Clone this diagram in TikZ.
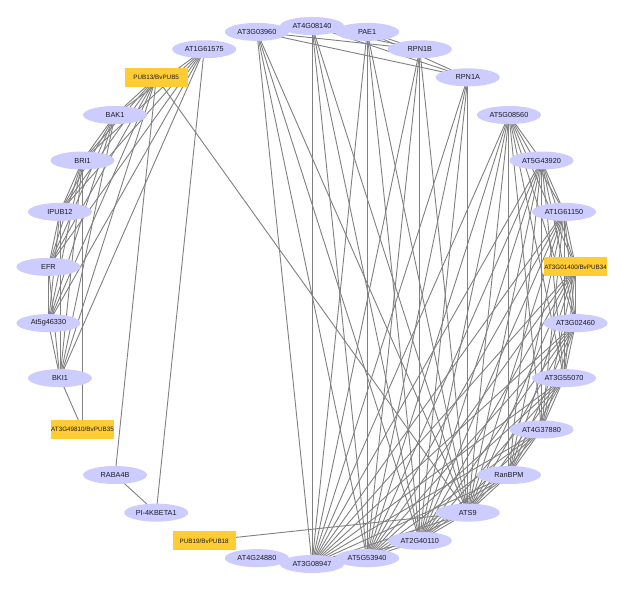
\documentclass[tikz,border=0pt]{standalone}
\usepackage{fontspec}
\setmainfont{Liberation Sans}
\usetikzlibrary{shapes.geometric,backgrounds}
\pgfdeclarelayer{bottom}
\pgfsetlayers{bottom,background,main}
\definecolor{nodefill}{RGB}{204,204,255}
\definecolor{pubfill}{RGB}{255,204,51}
\definecolor{edgecol}{RGB}{128,128,128}
\definecolor{txtcol}{RGB}{25,25,35}
\begin{document}
\begin{tikzpicture}[x=1pt,y=1pt,
  ell/.style={ellipse, fill=nodefill, minimum width=64pt, minimum height=18pt, inner sep=0pt,
    text=txtcol, font=\fontsize{7.3}{8}\selectfont},
  pub/.style={rectangle, fill=pubfill, minimum width=63pt, minimum height=19pt, inner sep=0pt,
    text=txtcol, font=\fontsize{6.3}{7}\selectfont},
  edge/.style={draw=edgecol, line width=0.9pt}]
\begin{pgfonlayer}{bottom}
\fill[white] (0,0) rectangle (628,-588);
\end{pgfonlayer}
\useasboundingbox (0,0) rectangle (628,-588);
\begin{scope}[shift={(312,-295)}]
% circle layout, 12 degree steps clockwise from top
\node[ell] (a408)   at (90:265pt and 269pt)  {AT4G08140};
\node[ell] (pae1)   at (78:265pt and 269pt)  {PAE1};
\node[ell] (rpn1b)  at (66:265pt and 269pt)  {RPN1B};
\node[ell] (rpn1a)  at (54:265pt and 269pt)  {RPN1A};
\node[ell] (a0856)  at (42:265pt and 269pt)  {AT5G08560};
\node[ell] (a4392)  at (30:265pt and 269pt)  {AT5G43920};
\node[ell] (a6115)  at (18:265pt and 269pt)  {AT1G61150};
\node[pub] (pub34)  at (6:265pt and 269pt)   {AT3G01400/BvPUB34};
\node[ell] (a0246)  at (-6:265pt and 269pt)  {AT3G02460};
\node[ell] (a5507)  at (-18:265pt and 269pt) {AT3G55070};
\node[ell] (a3788)  at (-30:265pt and 269pt) {AT4G37880};
\node[ell] (ranbpm) at (-42:265pt and 269pt) {RanBPM};
\node[ell] (ats9)   at (-54:265pt and 269pt) {ATS9};
\node[ell] (a4011)  at (-66:265pt and 269pt) {AT2G40110};
\node[ell] (a5394)  at (-78:265pt and 269pt) {AT5G53940};
\node[ell] (a0894)  at (-90:265pt and 269pt) {AT3G08947};
\node[ell] (a2488)  at (-102:265pt and 269pt) {AT4G24880};
\node[pub] (pub18)  at (-114:265pt and 269pt) {PUB19/BvPUB18};
\node[ell] (pi4k)   at (-126:265pt and 269pt) {PI-4KBETA1};
\node[ell] (raba)   at (-138:265pt and 269pt) {RABA4B};
\node[pub] (pub35)  at (-150:265pt and 269pt) {AT3G49810/BvPUB35};
\node[ell] (bki1)   at (-162:265pt and 269pt) {BKI1};
\node[ell] (a4633)  at (-174:265pt and 269pt) {At5g46330};
\node[ell] (efr)    at (174:265pt and 269pt) {EFR};
\node[ell] (ipub12) at (162:265pt and 269pt) {IPUB12};
\node[ell] (bri1)   at (150:265pt and 269pt) {BRI1};
\node[ell] (bak1)   at (138:265pt and 269pt) {BAK1};
\node[pub] (pub5)   at (126:265pt and 269pt) {PUB13/BvPUB5};
\node[ell] (a6157)  at (114:265pt and 269pt) {AT1G61575};
\node[ell] (a0396)  at (102:265pt and 269pt) {AT3G03960};
\end{scope}
\begin{pgfonlayer}{background}
% left cluster
\foreach \a/\bs in {pub5/{bak1,bri1,ipub12,efr,a4633,bki1,raba,ats9},
                    a6157/{bak1,bri1,ipub12,efr,a4633,bki1,pi4k},
                    bak1/{bri1,ipub12,efr,a4633,bki1},
                    bri1/{ipub12,efr,a4633,bki1,pub35},
                    ipub12/{efr,a4633,bki1},
                    efr/{a4633,bki1},
                    a4633/{bki1},
                    bki1/{pub35},
                    raba/{pi4k},
                    pub18/{ats9}}
  \foreach \b in \bs \draw[edge] (\a.center) -- (\b.center);
% top group to bottom group
\foreach \a in {a0396,a408,pae1,rpn1b,rpn1a}
  \foreach \b in {ats9,a4011,a5394,a0894}
    \draw[edge] (\a.center) -- (\b.center);
% top group internal
\foreach \a/\bs in {a0396/{rpn1b,rpn1a}, a408/{rpn1b,rpn1a}, pae1/{rpn1b,rpn1a}}
  \foreach \b in \bs \draw[edge] (\a.center) -- (\b.center);
% right group to bottom group
\foreach \a in {a0856,a4392,a6115,pub34,a0246,a5507,a3788,ranbpm}
  \foreach \b in {ats9,a4011,a5394,a0894}
    \draw[edge] (\a.center) -- (\b.center);
% right group internal
\foreach \a/\bs in {a0856/{a4392,a6115,pub34,a0246,a5507,a3788,ranbpm},
                    a4392/{a6115,pub34,a0246,a5507,a3788,ranbpm},
                    a6115/{pub34,a0246,a5507,a3788,ranbpm},
                    pub34/{a0246,a5507,a3788,ranbpm},
                    a0246/{a5507,a3788,ranbpm},
                    a5507/{a3788,ranbpm},
                    a3788/{ranbpm},
                    ats9/{a4011,a5394,a0894},
                    a4011/{a5394,a0894},
                    a5394/{a0894}}
  \foreach \b in \bs \draw[edge] (\a.center) -- (\b.center);
\end{pgfonlayer}
\end{tikzpicture}
\end{document}
